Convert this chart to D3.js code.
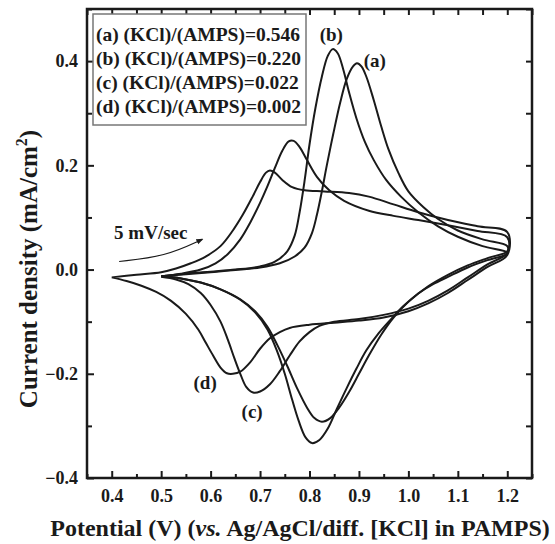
<!DOCTYPE html>
<html>
<head>
<meta charset="utf-8">
<script src="https://cdn.jsdelivr.net/npm/d3@7"></script>
<style>
body { margin: 0; background: #fff; }
text { font-family: "Liberation Serif", "Times New Roman", serif; font-weight: bold; fill: #1a1a1a; }
</style>
</head>
<body>
<div id="chart"></div>
<script>
// cyclic voltammograms: [potential (V), current density (mA/cm2)], forward scan then reverse scan
var curveA = [
	[0.50,-0.013],[0.55,-0.009],[0.60,-0.005],[0.65,-0.001],[0.70,0.004],[0.74,0.012],[0.77,0.025],[0.79,0.042],
	[0.805,0.07],[0.815,0.105],[0.825,0.15],[0.835,0.2],[0.848,0.26],[0.862,0.32],[0.875,0.365],[0.888,0.39],
	[0.896,0.396],[0.905,0.39],[0.915,0.37],[0.93,0.325],[0.945,0.275],[0.96,0.23],[0.98,0.185],[1.0,0.15],
	[1.03,0.12],[1.06,0.097],[1.1,0.075],[1.15,0.058],[1.2,0.045],
	[1.2,0.035],[1.16,0.022],[1.12,0.008],[1.08,-0.01],[1.04,-0.032],[1.0,-0.062],[0.97,-0.092],[0.945,-0.125],
	[0.92,-0.165],[0.9,-0.2],[0.88,-0.235],[0.86,-0.265],[0.842,-0.285],[0.825,-0.292],[0.81,-0.285],[0.795,-0.265],
	[0.775,-0.228],[0.755,-0.185],[0.735,-0.145],[0.715,-0.11],[0.69,-0.08],[0.66,-0.057],[0.62,-0.038],
	[0.58,-0.025],[0.54,-0.017],[0.50,-0.013]
];
var curveB = [
	[0.50,-0.013],[0.55,-0.008],[0.60,-0.004],[0.65,0.0],[0.70,0.006],[0.73,0.015],[0.755,0.035],[0.77,0.065],
	[0.78,0.11],[0.79,0.17],[0.80,0.24],[0.812,0.31],[0.825,0.37],[0.837,0.41],[0.847,0.423],[0.857,0.415],
	[0.868,0.385],[0.88,0.34],[0.895,0.29],[0.912,0.245],[0.93,0.21],[0.955,0.172],[0.985,0.14],[1.02,0.11],
	[1.06,0.083],[1.1,0.063],[1.15,0.045],[1.2,0.033],
	[1.2,0.03],[1.16,0.018],[1.12,0.004],[1.08,-0.014],[1.05,-0.028],[1.02,-0.046],[0.99,-0.07],[0.965,-0.095],
	[0.94,-0.122],[0.915,-0.155],[0.895,-0.19],[0.875,-0.228],[0.855,-0.268],[0.837,-0.305],[0.82,-0.327],
	[0.805,-0.333],[0.792,-0.322],[0.778,-0.29],[0.765,-0.25],[0.75,-0.2],[0.735,-0.158],[0.715,-0.115],
	[0.69,-0.082],[0.66,-0.058],[0.62,-0.038],[0.58,-0.025],[0.54,-0.017],[0.50,-0.013]
];
var curveC = [
	[0.50,-0.013],[0.54,-0.008],[0.58,0.0],[0.61,0.012],[0.635,0.03],[0.66,0.058],[0.68,0.09],[0.70,0.128],
	[0.715,0.16],[0.73,0.195],[0.745,0.228],[0.758,0.246],[0.768,0.247],[0.78,0.235],[0.795,0.21],[0.815,0.178],
	[0.84,0.152],[0.87,0.132],[0.92,0.113],[0.97,0.103],[1.02,0.095],[1.08,0.085],[1.14,0.074],[1.2,0.062],
	[1.2,0.032],[1.16,0.01],[1.12,-0.015],[1.08,-0.04],[1.04,-0.06],[1.0,-0.075],[0.95,-0.087],[0.9,-0.095],
	[0.85,-0.1],[0.82,-0.108],[0.8,-0.12],[0.78,-0.138],[0.76,-0.165],[0.74,-0.195],[0.72,-0.22],[0.70,-0.234],
	[0.686,-0.236],[0.672,-0.225],[0.66,-0.2],[0.648,-0.17],[0.635,-0.135],[0.62,-0.1],[0.60,-0.068],
	[0.58,-0.045],[0.555,-0.028],[0.53,-0.019],[0.50,-0.014]
];
var curveD = [
	[0.40,-0.015],[0.45,-0.01],[0.50,-0.005],[0.53,0.002],[0.56,0.012],[0.59,0.025],[0.62,0.045],[0.645,0.075],
	[0.665,0.105],[0.685,0.14],[0.70,0.168],[0.712,0.186],[0.72,0.19],[0.73,0.186],[0.745,0.172],[0.765,0.158],
	[0.79,0.152],[0.83,0.15],[0.88,0.147],[0.92,0.14],[0.97,0.125],[1.02,0.11],[1.08,0.095],[1.14,0.083],[1.2,0.072],
	[1.2,0.028],[1.16,0.005],[1.12,-0.02],[1.08,-0.045],[1.04,-0.065],[1.0,-0.08],[0.95,-0.092],[0.9,-0.098],
	[0.85,-0.102],[0.8,-0.106],[0.76,-0.112],[0.74,-0.12],[0.72,-0.132],[0.70,-0.152],[0.68,-0.178],[0.66,-0.196],
	[0.645,-0.2],[0.633,-0.199],[0.62,-0.188],[0.605,-0.165],[0.59,-0.14],[0.575,-0.115],[0.55,-0.085],
	[0.52,-0.06],[0.49,-0.043],[0.46,-0.031],[0.43,-0.022],[0.40,-0.015]
];

var curves = [curveA, curveB, curveC, curveD];

// legend text and curve tags
var legendLabels = [
	"(a) (KCl)/(AMPS)=0.546",
	"(b) (KCl)/(AMPS)=0.220",
	"(c) (KCl)/(AMPS)=0.022",
	"(d) (KCl)/(AMPS)=0.002"
];
var tagLabels = ["(a)", "(b)", "(c)", "(d)"];
var tagPos = [[0.932, 0.402], [0.844, 0.452], [0.684, -0.273], [0.589, -0.217]];

// scan rate note and its arrow (data coords)
var rateText = "5 mV/sec";
var ratePos = [0.479, 0.071];
var arrowPts = [[0.415, 0.0155], [0.508, 0.025], [0.583, 0.058]];

// axis ticks
var xMajor = [0.4, 0.5, 0.6, 0.7, 0.8, 0.9, 1.0, 1.1, 1.2];
var xMinor = [0.35, 0.45, 0.55, 0.65, 0.75, 0.85, 0.95, 1.05, 1.15, 1.25];
var yMajor = [-0.4, -0.2, 0.0, 0.2, 0.4];
var yMinor = [-0.3, -0.1, 0.1, 0.3, 0.5];

var width = 555, height = 544;
var plot = { left: 87, right: 532, top: 9, bottom: 478 };

var svg = d3.select("#chart").append("svg")
	.attr("width", width)
	.attr("height", height);

var x = d3.scaleLinear().domain([0.35, 1.25]).range([plot.left, plot.right]);
var y = d3.scaleLinear().domain([-0.4, 0.5]).range([plot.bottom, plot.top]);

var fmt = d3.format(".1f");

// curves
var line = d3.line()
	.x(function(d) { return x(d[0]); })
	.y(function(d) { return y(d[1]); })
	.curve(d3.curveCatmullRom.alpha(0.5));

svg.selectAll(".cv")
	.data(curves)
	.enter().append("path")
	.attr("class", "cv")
	.attr("d", line)
	.attr("fill", "none")
	.attr("stroke", "#1a1a1a")
	.attr("stroke-width", 2)
	.attr("stroke-linejoin", "round");

// axes (ticks point inward)
function styleAxis(g) {
	g.select(".domain").remove();
	g.selectAll(".tick line").attr("stroke", "#1a1a1a").attr("stroke-width", 2);
	g.selectAll(".tick text").style("font-size", "18px").attr("fill", "#1a1a1a");
}

svg.append("g")
	.attr("transform", "translate(0," + plot.bottom + ")")
	.call(d3.axisBottom(x).tickValues(xMajor).tickFormat(fmt).tickSizeInner(-7).tickPadding(11))
	.call(styleAxis);
svg.append("g")
	.attr("transform", "translate(0," + plot.bottom + ")")
	.call(d3.axisBottom(x).tickValues(xMinor).tickFormat("").tickSizeInner(-4))
	.call(styleAxis);
svg.append("g")
	.attr("transform", "translate(0," + plot.top + ")")
	.call(d3.axisTop(x).tickValues(xMajor.concat(xMinor)).tickFormat("").tickSizeInner(-6))
	.call(styleAxis);

svg.append("g")
	.attr("transform", "translate(" + plot.left + ",0)")
	.call(d3.axisLeft(y).tickValues(yMajor).tickFormat(fmt).tickSizeInner(-7).tickPadding(9))
	.call(styleAxis);
svg.append("g")
	.attr("transform", "translate(" + plot.left + ",0)")
	.call(d3.axisLeft(y).tickValues(yMinor).tickFormat("").tickSizeInner(-5))
	.call(styleAxis);
svg.append("g")
	.attr("transform", "translate(" + plot.right + ",0)")
	.call(d3.axisRight(y).tickValues(yMajor.concat(yMinor)).tickFormat("").tickSizeInner(-6))
	.call(styleAxis);

// frame
svg.append("path")
	.attr("d", "M" + plot.left + "," + plot.top + "V" + plot.bottom + "H" + plot.right + "V" + plot.top + "Z")
	.attr("fill", "none")
	.attr("stroke", "#1a1a1a")
	.attr("stroke-width", 2.5);

// legend
var legend = svg.append("g").attr("transform", "translate(93,14)");
legend.append("rect")
	.attr("width", 213)
	.attr("height", 111)
	.attr("fill", "#fff")
	.attr("stroke", "#777")
	.attr("stroke-width", 1.5);
legend.selectAll("text")
	.data(legendLabels)
	.enter().append("text")
	.attr("x", 3)
	.attr("y", function(d, i) { return 27 + i * 24; })
	.style("font-size", "19.5px")
	.text(function(d) { return d; });

// curve tags
svg.selectAll(".tag")
	.data(tagLabels)
	.enter().append("text")
	.attr("class", "tag")
	.attr("x", function(d, i) { return x(tagPos[i][0]); })
	.attr("y", function(d, i) { return y(tagPos[i][1]); })
	.attr("text-anchor", "middle")
	.attr("dy", "0.35em")
	.style("font-size", "19px")
	.text(function(d) { return d; });

// scan rate note
svg.append("text")
	.attr("x", x(ratePos[0]))
	.attr("y", y(ratePos[1]))
	.attr("text-anchor", "middle")
	.attr("dy", "0.35em")
	.style("font-size", "19px")
	.text(rateText);

svg.append("defs").append("marker")
	.attr("id", "head")
	.attr("viewBox", "0 0 10 10")
	.attr("refX", 8).attr("refY", 5)
	.attr("markerWidth", 6).attr("markerHeight", 6)
	.attr("orient", "auto")
	.append("path")
	.attr("d", "M0,1 L10,5 L0,9 Z")
	.attr("fill", "#1a1a1a");

svg.append("path")
	.attr("d", d3.line().x(function(d) { return x(d[0]); }).y(function(d) { return y(d[1]); }).curve(d3.curveBasis)(arrowPts))
	.attr("fill", "none")
	.attr("stroke", "#1a1a1a")
	.attr("stroke-width", 1.2)
	.attr("marker-end", "url(#head)");

// axis titles
var yTitle = svg.append("text")
	.attr("transform", "translate(37,269) rotate(-90)")
	.attr("text-anchor", "middle")
	.style("font-size", "25px");
yTitle.append("tspan").text("Current density (mA/cm");
yTitle.append("tspan").attr("dy", -10).style("font-size", "16px").text("2");
yTitle.append("tspan").attr("dy", 10).text(")");

var xTitle = svg.append("text")
	.attr("x", 300)
	.attr("y", 536)
	.attr("text-anchor", "middle")
	.style("font-size", "24px");
xTitle.append("tspan").text("Potential (V) (");
xTitle.append("tspan").style("font-style", "italic").text("vs.");
xTitle.append("tspan").text(" Ag/AgCl/diff. [KCl] in PAMPS)");
</script>
</body>
</html>
